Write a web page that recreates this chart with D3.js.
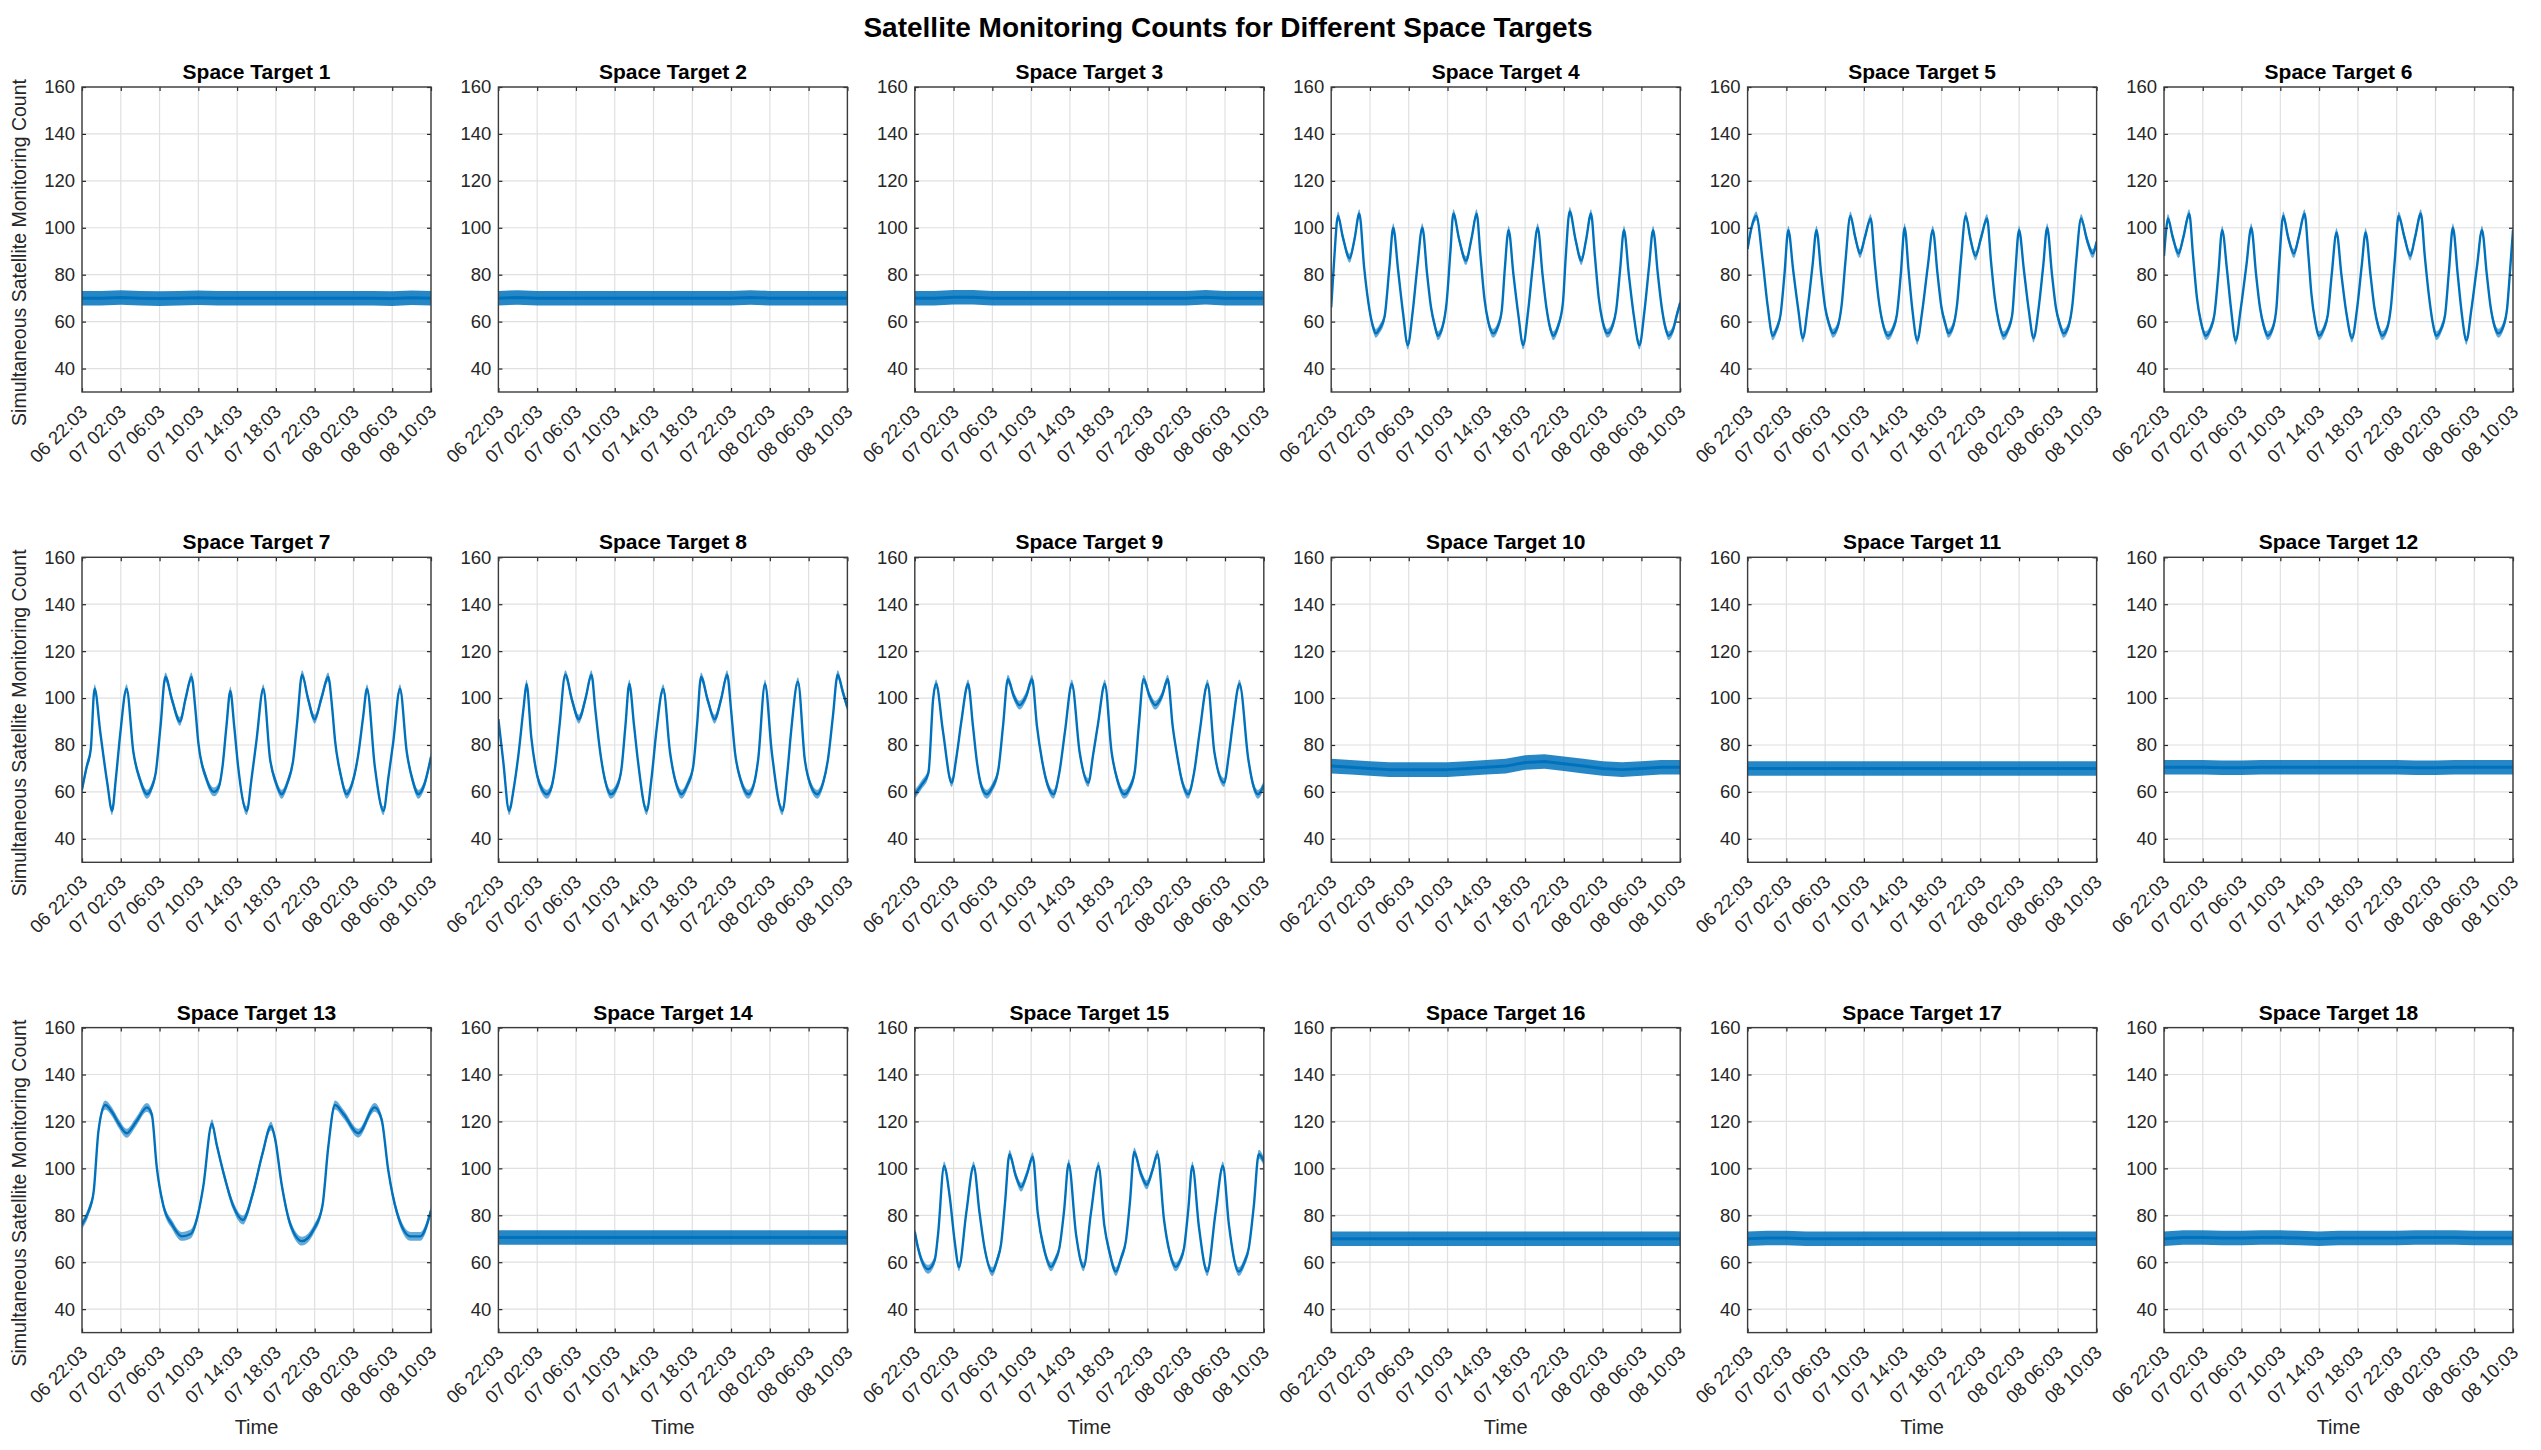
<!DOCTYPE html>
<html><head><meta charset="utf-8">
<script src="https://cdn.jsdelivr.net/npm/d3@7"></script>
<style>
body{margin:0;background:#fff}
svg{display:block}
text{font-family:"Liberation Sans",Arial,Helvetica,sans-serif}
</style>
</head><body>
<svg id="chart" width="2541" height="1450"></svg>
<script>
// ---------------- DATA ----------------
const figTitle = "Satellite Monitoring Counts for Different Space Targets";
const yLabel = "Simultaneous Satellite Monitoring Count";
const xLabel = "Time";
const targetNames = ["Space Target 1","Space Target 2","Space Target 3","Space Target 4","Space Target 5","Space Target 6",
  "Space Target 7","Space Target 8","Space Target 9","Space Target 10","Space Target 11","Space Target 12",
  "Space Target 13","Space Target 14","Space Target 15","Space Target 16","Space Target 17","Space Target 18"];
const xTickLabels = ["06 22:03","07 02:03","07 06:03","07 10:03","07 14:03","07 18:03","07 22:03","08 02:03","08 06:03","08 10:03"];
const yTicks = [40,60,80,100,120,140,160];
const yDomain = [30,160];

// flat series: values every 2 hours from 06 22:03
const st1  = [70,70,70.3,70,69.8,70,70.2,70,70,70,70,70,70,70,70,70,69.8,70.2,70];
const st2  = [70,70.3,70,70,70,70,70,70,70,70,70,70,70,70.3,70,70,70,70,70];
const st3  = [70,70,70.4,70.4,70,70,70,70,70,70,70,70,70,70,70,70.4,70,70,70];
const st10 = [71,70.5,70,69.5,69.5,69.5,69.5,70,70.5,71,72.5,73,72,71,70,69.5,70,70.5,70.5];
const st11 = [70,70,70,70,70,70,70,70,70,70,70,70,70,70,70,70,70,70,70];
const st12 = [70.5,70.5,70.5,70.3,70.3,70.5,70.5,70.5,70.5,70.5,70.5,70.5,70.5,70.3,70.3,70.5,70.5,70.5,70.5];
const st14 = [70.5,70.5,70.5,70.5,70.5,70.5,70.5,70.5,70.5,70.5,70.5,70.5,70.5,70.5,70.5,70.5,70.5,70.5,70.5];
const st16 = [70,70,70,70,70,70,70,70,70,70,70,70,70,70,70,70,70,70,70];
const st17 = [70,70.3,70.3,70,70,70,70,70,70,70,70,70,70,70,70,70,70,70,70];
const st18 = [70,70.5,70.5,70.3,70.3,70.5,70.5,70.3,70,70.3,70.3,70.3,70.3,70.5,70.5,70.5,70.3,70.3,70.3];

// oscillating series: [hours after 06 22:03, count]
const st4 = [[0,66],[0.3,86],[0.7,105],[1.2,96],[1.9,87],[2.4,95],[2.9,106],[3.4,83],[3.95,65],[4.3,58],[4.6,55],[5.0,57],[5.5,62],[6.0,83],[6.4,100],[6.9,82],[7.4,64],[7.9,50],[8.4,64],[8.9,84],[9.4,100],[9.9,80],[10.3,66],[10.7,58],[11.0,54],[11.5,58],[11.9,68],[12.3,90],[12.6,106],[13.2,95],[13.9,86],[14.5,96],[15.0,106],[15.4,88],[15.8,70],[16.2,60],[16.7,55],[17.2,58],[17.6,65],[17.9,82],[18.3,99],[18.8,80],[19.3,63],[19.8,50],[20.3,64],[20.8,84],[21.3,100],[21.8,80],[22.2,66],[22.6,57],[22.9,54],[23.4,58],[23.9,68],[24.2,88],[24.6,107],[25.2,95],[25.8,86],[26.3,95],[26.8,106],[27.2,88],[27.6,70],[28.0,60],[28.5,55],[29.0,58],[29.4,65],[29.8,82],[30.2,99],[30.7,80],[31.2,63],[31.8,50],[32.3,64],[32.8,84],[33.2,99],[33.7,80],[34.1,66],[34.5,57],[34.8,54],[35.3,57],[35.6,62],[36,68]];
const st5 = [[0,91],[0.4,100],[0.9,105],[1.55,86],[2.06,67],[2.6,54],[3.0,57],[3.4,63],[3.8,80],[4.2,99],[4.7,82],[5.2,66],[5.7,53],[6.2,66],[6.7,84],[7.1,99],[7.6,80],[8.0,66],[8.4,59],[8.8,55],[9.3,58],[9.7,67],[10.1,86],[10.6,105],[11.1,96],[11.6,89],[12.1,96],[12.7,104],[13.1,86],[13.5,70],[13.9,60],[14.5,54],[15.0,57],[15.4,63],[15.8,80],[16.2,100],[16.6,82],[17.0,65],[17.5,52],[18.0,64],[18.6,84],[19.1,99],[19.6,80],[20.0,66],[20.4,59],[20.7,55],[21.2,58],[21.6,67],[22.0,86],[22.5,105],[23.0,95],[23.5,88],[24.1,96],[24.7,104],[25.1,86],[25.5,70],[25.9,60],[26.4,54],[26.9,57],[27.3,63],[27.6,80],[28.0,99],[28.5,82],[29.0,65],[29.5,53],[30.0,65],[30.5,84],[30.9,100],[31.4,80],[31.8,66],[32.2,59],[32.6,55],[33.1,58],[33.5,67],[33.9,86],[34.4,104],[35.0,95],[35.6,89],[36,94]];
const st6 = [[0,88],[0.2,98],[0.4,104],[0.9,96],[1.5,89],[2.0,96],[2.6,106],[3.0,88],[3.4,70],[3.8,60],[4.3,54],[4.8,57],[5.2,63],[5.6,80],[6.0,99],[6.5,82],[6.9,66],[7.4,52],[7.9,65],[8.5,84],[9.0,100],[9.5,80],[9.9,66],[10.3,58],[10.7,54],[11.2,57],[11.6,66],[11.9,86],[12.3,105],[12.8,96],[13.4,89],[13.9,96],[14.5,106],[14.9,88],[15.2,72],[15.6,60],[16.0,54],[16.5,57],[16.9,63],[17.3,80],[17.8,98],[18.3,80],[18.8,64],[19.4,53],[19.9,65],[20.4,84],[20.8,98],[21.3,80],[21.7,66],[22.1,58],[22.5,54],[23.0,57],[23.4,66],[23.8,86],[24.2,105],[24.8,96],[25.4,88],[25.9,96],[26.5,106],[26.9,88],[27.3,72],[27.7,60],[28.1,54],[28.6,57],[29.0,63],[29.4,82],[29.8,100],[30.3,80],[30.7,64],[31.2,52],[31.7,65],[32.3,84],[32.8,99],[33.3,80],[33.7,66],[34.1,58],[34.5,55],[35.0,58],[35.4,66],[35.7,82],[36,99]];
const st7 = [[0,61],[0.5,71],[0.9,78],[1.3,104],[1.9,85],[2.6,64],[3.1,52],[3.5,66],[3.95,85],[4.6,104],[5.3,77],[6.0,65],[6.7,59],[7.2,62],[7.6,68],[8.1,88],[8.6,109],[9.3,99],[10.1,90],[10.7,100],[11.3,109],[11.7,95],[12.0,81],[12.8,66],[13.6,60],[14.1,62],[14.5,71],[14.9,88],[15.3,103],[15.7,88],[16.1,71],[17.0,52],[17.5,66],[18.0,82],[18.7,104],[19.4,74],[20.0,64],[20.6,59],[21.2,64],[21.8,74],[22.2,90],[22.7,110],[23.3,100],[24.0,91],[24.7,100],[25.4,109],[25.8,96],[26.1,82],[26.7,67],[27.3,59],[27.9,64],[28.5,76],[29.0,92],[29.4,104],[30.2,71],[31.1,52],[31.6,66],[32.1,81],[32.8,104],[33.5,77],[34.1,65],[34.7,59],[35.3,63],[36,75]];
const st8 = [[0,91],[0.5,73],[1.1,52],[1.6,62],[2.1,77],[2.6,96],[2.9,106],[3.4,83],[4.0,67],[4.5,61],[5.0,59],[5.4,61],[5.8,69],[6.3,88],[6.9,110],[7.6,99],[8.3,91],[9.0,100],[9.6,110],[10.0,95],[10.5,77],[11.0,65],[11.6,59],[12.2,62],[12.7,70],[13.1,88],[13.5,106],[14.0,88],[14.4,73],[15.3,52],[15.8,66],[16.3,86],[17.0,104],[17.7,77],[18.3,64],[18.9,59],[19.5,63],[20.1,71],[20.5,89],[20.9,109],[21.6,99],[22.3,91],[23.0,100],[23.6,110],[24.0,95],[24.4,77],[25.0,65],[25.8,59],[26.4,64],[26.8,74],[27.5,106],[28.2,77],[29.3,52],[29.8,68],[30.2,86],[30.9,107],[31.6,74],[32.2,63],[32.9,59],[33.5,64],[34.0,74],[34.5,92],[35.0,110],[35.5,103],[36,96]];
const st9 = [[0,59],[0.7,63],[1.4,68],[1.9,100],[2.2,106],[2.9,86],[3.8,64],[4.3,75],[4.8,90],[5.5,106],[6.0,88],[6.4,73],[6.9,62],[7.4,59],[8.0,62],[8.6,69],[9.1,88],[9.6,108],[10.2,101],[10.8,97],[11.5,101],[12.1,108],[12.6,88],[13.1,74],[13.7,63],[14.3,59],[14.9,68],[15.5,86],[16.2,106],[17.0,77],[17.9,64],[18.4,76],[18.9,89],[19.6,106],[20.3,77],[20.9,65],[21.6,59],[22.2,62],[22.7,69],[23.1,88],[23.6,108],[24.2,101],[24.8,97],[25.5,101],[26.1,108],[26.6,88],[27.0,77],[27.6,64],[28.2,59],[28.8,68],[29.4,86],[30.2,106],[30.9,77],[31.9,64],[32.4,76],[32.8,89],[33.5,106],[34.4,74],[34.9,63],[35.4,59],[36,63]];
const st13 = [[0,76],[0.7,82],[1.2,90],[1.7,116],[2.4,127],[3.1,124],[3.8,119],[4.6,115],[5.6,120],[6.7,126],[7.2,123],[7.7,101],[8.4,84],[9.3,76],[10.3,71],[11.2,72],[12.0,81],[12.5,92],[13.4,119],[13.9,110],[14.6,98],[15.6,84],[16.6,78],[17.6,89],[18.6,106],[19.5,118],[19.9,113],[20.6,93],[21.5,76],[22.7,69],[23.9,74],[24.8,84],[25.4,109],[26.1,127],[27.0,123],[28.5,115],[30.2,126],[30.9,121],[31.6,99],[32.5,81],[33.9,71],[34.9,71],[36,82]];
const st15 = [[0,73],[0.34,66],[0.69,61],[1.37,57],[2.06,61],[2.4,72],[3.02,101],[3.6,88],[4.11,69],[4.56,58],[5.31,81],[6.07,101],[6.68,81],[7.2,66],[7.99,56],[8.5,61],[8.91,68],[9.3,85],[9.77,106],[10.4,97],[10.97,92],[11.6,98],[12.17,105],[12.68,81],[13.37,65],[14.06,58],[14.5,61],[14.91,66],[15.4,82],[15.87,102],[16.63,72],[17.42,58],[18.17,81],[18.96,101],[19.54,76],[20.1,64],[20.74,56],[21.3,62],[21.77,69],[22.2,86],[22.63,107],[23.3,98],[23.93,93],[24.5,99],[25.03,106],[25.71,78],[26.3,64],[26.91,58],[27.4,61],[27.77,66],[28.2,82],[28.63,101],[29.31,75],[30.17,56],[31.02,81],[31.78,101],[32.4,76],[33.43,56],[34.0,60],[34.45,66],[34.97,84],[35.48,106],[36,103]];

// series in panel order; flat ones are 2-hourly value lists
const seriesList = [st1,st2,st3,st4,st5,st6,st7,st8,st9,st10,st11,st12,st13,st14,st15,st16,st17,st18];
const flatStepHours = 2;

// ---------------- LAYOUT / STYLE ----------------
const W = 2541, H = 1450;
const panelW = 349, panelH = 305;
const colX0 = 82, colStep = 416.4, rowY0 = 87, rowStep = 470.3;
const lineColor = "#0072BD";
const axisColor = "#262626";
const tickFont = 18.5;

const svg = d3.select("#chart");
svg.append("rect").attr("width", W).attr("height", H).attr("fill", "#fff");

svg.append("text")
  .attr("x", 1228).attr("y", 37)
  .attr("text-anchor", "middle")
  .attr("font-size", 28).attr("font-weight", "bold").attr("fill", "#000")
  .text(figTitle);

const parseTick = d3.timeParse("%d %H:%M");
const tickDates = xTickLabels.map(parseTick);
const t0 = tickDates[0];
const hToDate = h => new Date(+t0 + h * 3600000);
const fmt = d3.timeFormat("%d %H:%M");

const x = d3.scaleTime().domain([tickDates[0], tickDates[tickDates.length - 1]]).range([0, panelW]);
const y = d3.scaleLinear().domain(yDomain).range([panelH, 0]);

const defs = svg.append("defs");
defs.append("clipPath").attr("id", "plotclip")
  .append("rect").attr("x", 0).attr("y", 0).attr("width", panelW).attr("height", panelH);

seriesList.forEach((raw, i) => {
  const col = i % 6, row = Math.floor(i / 6);
  const gx = colX0 + col * colStep, gy = rowY0 + row * rowStep;
  const g = svg.append("g").attr("transform", `translate(${gx},${gy})`);

  const isFlat = typeof raw[0] === "number";
  const pts = isFlat ? raw.map((v, k) => ({t: hToDate(k * flatStepHours), v}))
                     : raw.map(d => ({t: hToDate(d[0]), v: d[1]}));

  // grid
  g.append("g").selectAll("line").data(tickDates).join("line")
    .attr("x1", d => x(d)).attr("x2", d => x(d)).attr("y1", 0).attr("y2", panelH)
    .attr("stroke", "#e0e0e0").attr("stroke-width", 1.2);
  g.append("g").selectAll("line").data(yTicks).join("line")
    .attr("x1", 0).attr("x2", panelW).attr("y1", d => y(d)).attr("y2", d => y(d))
    .attr("stroke", "#e0e0e0").attr("stroke-width", 1.2);

  // data
  const hw = isFlat ? 3.1 : 1.9;
  const curve = isFlat ? d3.curveLinear : d3.curveMonotoneX;
  const area = d3.area().x(d => x(d.t)).y0(d => y(d.v - hw)).y1(d => y(d.v + hw)).curve(curve);
  const line = d3.line().x(d => x(d.t)).y(d => y(d.v)).curve(curve);
  const dg = g.append("g").attr("clip-path", "url(#plotclip)");
  dg.append("path").datum(pts).attr("d", area)
    .attr("fill", lineColor).attr("fill-opacity", isFlat ? 0.85 : 0.6);
  dg.append("path").datum(pts).attr("d", line)
    .attr("fill", "none").attr("stroke", lineColor)
    .attr("stroke-width", isFlat ? 3 : 2.4).attr("stroke-linejoin", "round");

  // axes (inward ticks on all four sides)
  const left = g.append("g").call(d3.axisLeft(y).tickValues(yTicks).tickSize(-4).tickPadding(7));
  const right = g.append("g").attr("transform", `translate(${panelW},0)`)
    .call(d3.axisRight(y).tickValues(yTicks).tickSize(-4).tickFormat(""));
  const bottom = g.append("g").attr("transform", `translate(0,${panelH})`)
    .call(d3.axisBottom(x).tickValues(tickDates).tickSize(-4).tickFormat(fmt));
  const top = g.append("g")
    .call(d3.axisTop(x).tickValues(tickDates).tickSize(-4).tickFormat(""));
  [left, right, bottom, top].forEach(a => {
    a.select(".domain").remove();
    a.selectAll(".tick line").attr("stroke", axisColor).attr("stroke-width", 1.2);
  });
  left.selectAll(".tick text").attr("font-size", tickFont).attr("fill", axisColor)
    .attr("font-family", '"Liberation Sans",Arial,sans-serif');
  bottom.selectAll(".tick text")
    .attr("font-size", tickFont).attr("fill", axisColor)
    .attr("font-family", '"Liberation Sans",Arial,sans-serif')
    .attr("text-anchor", "end")
    .attr("dy", null).attr("y", null)
    .attr("transform", "translate(6,21) rotate(-45)");

  g.append("rect").attr("width", panelW).attr("height", panelH)
    .attr("fill", "none").attr("stroke", "#3c3c3c").attr("stroke-width", 1.4);

  g.append("text").attr("x", panelW / 2).attr("y", -8)
    .attr("text-anchor", "middle").attr("font-size", 21).attr("font-weight", "bold").attr("fill", "#000")
    .text(targetNames[i]);

  if (col === 0) {
    g.append("text")
      .attr("transform", `translate(-56,${panelH / 2 + 13}) rotate(-90)`)
      .attr("text-anchor", "middle").attr("font-size", 19.5).attr("fill", axisColor)
      .text(yLabel);
  }
  if (row === 2) {
    g.append("text").attr("x", panelW / 2).attr("y", panelH + 101)
      .attr("text-anchor", "middle").attr("font-size", 20).attr("fill", axisColor)
      .text(xLabel);
  }
});
</script>
</body></html>
